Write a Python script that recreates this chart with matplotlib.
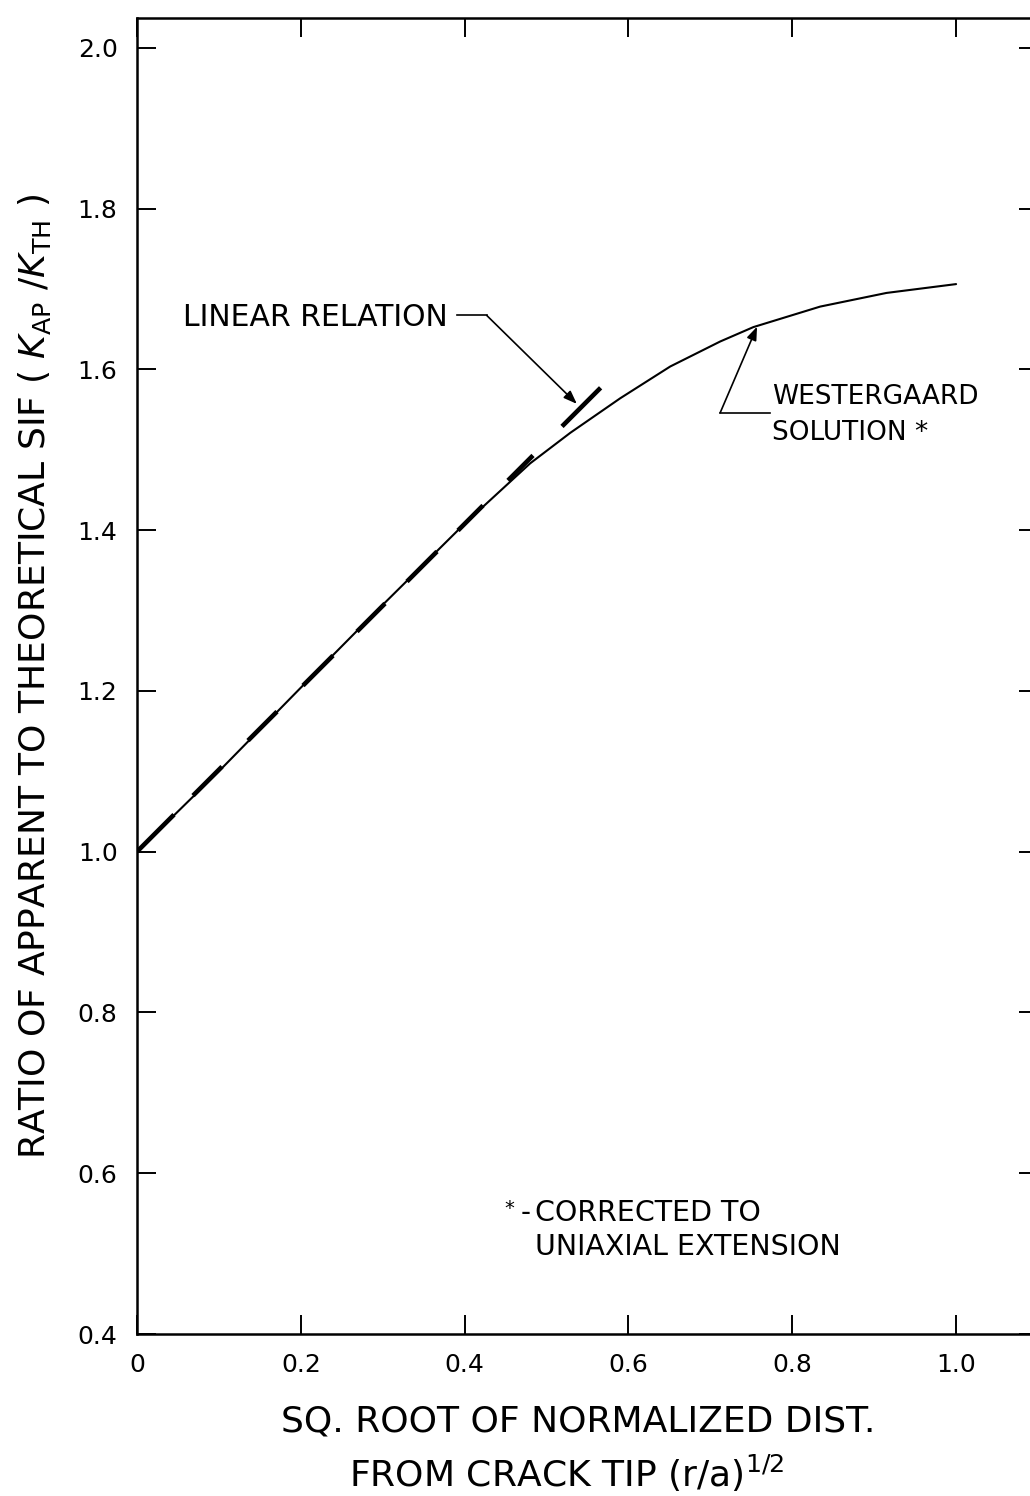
import matplotlib
matplotlib.use("Agg")
import matplotlib.pyplot as plt
import numpy as np

# ---- data ----
west_x = [0.0, 0.1, 0.2, 0.3, 0.4, 0.48, 0.529, 0.59, 0.651, 0.712, 0.7525, 0.834, 0.915, 1.0]
west_y = [1.0, 1.10, 1.204, 1.307, 1.408, 1.483, 1.521, 1.564, 1.6035, 1.6346, 1.6525, 1.678, 1.695, 1.706]
linear_x = [0.0, 0.566]
linear_y = [1.0, 1.577]
xticks = [0.0, 0.2, 0.4, 0.6, 0.8, 1.0]
xticklabels = ["0", "0.2", "0.4", "0.6", "0.8", "1.0"]
yticks = [0.4, 0.6, 0.8, 1.0, 1.2, 1.4, 1.6, 1.8, 2.0]
yticklabels = ["0.4", "0.6", "0.8", "1.0", "1.2", "1.4", "1.6", "1.8", "2.0"]

# dash on/off lengths of the linear relation, as horizontal pixel extents (style)
dash_xpx = [37, 19, 29, 26, 29, 26, 30, 24, 28, 22, 30, 21, 25, 25, 25, 29, 60]

plt.rcParams['font.family'] = ['DejaVu Sans']

W, H = 1030, 1496
fig = plt.figure(figsize=(W / 100, H / 100), dpi=100)
left_px, right_px, bottom_px, top_px = 137, 1038, 1334, 18
ax = fig.add_axes([left_px / W, 1 - bottom_px / H, (right_px - left_px) / W, (bottom_px - top_px) / H])
ax.set_xlim(0, 1.100)
ax.set_ylim(0.4, 2.037)

ax.plot(west_x, west_y, color='black', lw=1.5, solid_joinstyle='round', solid_capstyle='round')

lw_lin = 3.3
p0 = ax.transData.transform((linear_x[0], linear_y[0]))
p1 = ax.transData.transform((linear_x[-1], linear_y[-1]))
factor = np.hypot(*(p1 - p0)) / (p1[0] - p0[0])
seq = [v * factor * 72 / 100 / lw_lin for v in dash_xpx]
ax.plot(linear_x, linear_y, color='black', lw=lw_lin, linestyle=(0, seq), dash_capstyle='butt')

for s in ax.spines.values():
    s.set_linewidth(1.8)

ax.set_xticks(xticks)
ax.set_xticklabels(xticklabels)
ax.set_yticks(yticks)
ax.set_yticklabels(yticklabels)
ax.tick_params(direction='in', length=14, width=1.4, top=True, right=True,
               labelsize=18, colors='black')
ax.tick_params(axis='x', pad=14)
ax.tick_params(axis='y', pad=14)

# axis labels
fig.text(35 / W, 1 - 676 / H,
         r"RATIO OF APPARENT TO THEORETICAL SIF ( $\mathit{K}_{\mathrm{AP}}$ /$\mathit{K}_{\mathrm{TH}}$ )",
         rotation=90, ha='center', va='center', fontsize=26)
fig.text(578 / W, 1 - 1421 / H, "SQ. ROOT OF NORMALIZED DIST.", ha='center', va='center', fontsize=26)
fig.text(567 / W, 1 - 1473 / H, r"FROM CRACK TIP (r/a)$^{1/2}$", ha='center', va='center', fontsize=26)

# annotations
ax.text(0.056, 1.665, "LINEAR RELATION", ha='left', va='center', fontsize=21.5)
ax.plot([0.391, 0.427], [1.667, 1.667], color='black', lw=1.2)
ax.annotate("", xy=(0.537, 1.557), xytext=(0.427, 1.667),
            arrowprops=dict(arrowstyle='-|>,head_length=0.8,head_width=0.3', color='black', lw=1.2,
                            shrinkA=0, shrinkB=0))

ax.text(0.775, 1.566, "WESTERGAARD", ha='left', va='center', fontsize=19)
ax.text(0.775, 1.521, "SOLUTION *", ha='left', va='center', fontsize=19)
ax.plot([0.773, 0.712], [1.546, 1.546], color='black', lw=1.2)
ax.annotate("", xy=(0.757, 1.653), xytext=(0.712, 1.546),
            arrowprops=dict(arrowstyle='-|>,head_length=0.8,head_width=0.3', color='black', lw=1.2,
                            shrinkA=0, shrinkB=0))

ax.text(0.449, 0.556, "*", ha='left', va='center', fontsize=14)
ax.text(0.468, 0.550, "-", ha='left', va='center', fontsize=20)
ax.text(0.486, 0.550, "CORRECTED TO", ha='left', va='center', fontsize=20.5)
ax.text(0.486, 0.508, "UNIAXIAL EXTENSION", ha='left', va='center', fontsize=20.5)

fig.savefig("out.png", dpi=100)
